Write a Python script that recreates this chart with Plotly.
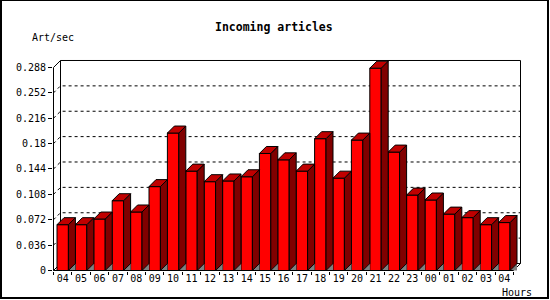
import plotly.graph_objects as go

# ---- data ----
hours = ['04', '05', '06', '07', '08', '09', '10', '11', '12', '13', '14', '15', '16',
         '17', '18', '19', '20', '21', '22', '23', '00', '01', '02', '03', '04']
rates = [0.065, 0.065, 0.073, 0.099, 0.083, 0.119, 0.195, 0.141, 0.126, 0.127, 0.133,
         0.166, 0.157, 0.141, 0.187, 0.131, 0.185, 0.287, 0.168, 0.107, 0.100, 0.080,
         0.075, 0.065, 0.068]
ytick_vals = [0, 0.036, 0.072, 0.108, 0.144, 0.18, 0.216, 0.252, 0.288]
ytick_text = ['0', '0.036', '0.072', '0.108', '0.144', '0.18', '0.216', '0.252', '0.288']

# ---- geometry (pixels) ----
FIG_W, FIG_H = 550, 300
P = 18.4          # px per category
K = 704.9         # px per unit of y
L, T, W, H = 53, 57, 473, 214
DEPTH = 7         # 3D depth in px
x0 = -0.5 - 0.5 / P
x1 = x0 + W / P
y0 = -0.5 / K
y1 = y0 + H / K
dx = DEPTH / P
dy = DEPTH / K
n = len(rates)
xl_edge, xr_edge = -0.5, n - 0.5
ytop = ytick_vals[-1]
BW = 0.62         # front bar width (category units)

FONT = "DejaVu Sans Mono"


def px(xp):
    return (xp - L) / W


def py(yp):
    return 1 - (yp - T) / H


fig = go.Figure()

# front faces
fig.add_trace(go.Bar(x=list(range(n)), y=rates, width=BW,
                     marker=dict(color='#ff0000', line=dict(color='black', width=1)),
                     hoverinfo='skip', showlegend=False))

# floor shadows, side faces, top faces
gx, gy, sx, sy, tx, ty = [], [], [], [], [], []
for i, v in enumerate(rates):
    xl = i - BW / 2
    xr = i + BW / 2
    gx += [xr, xr + dx, xr + dx, xr, None]
    gy += [0, dy, 0, 0, None]
    sx += [xr, xr, xr + dx, xr + dx, xr, None]
    sy += [0, v, v + dy, dy, 0, None]
    tx += [xl, xl + dx, xr + dx, xr, xl, None]
    ty += [v, v + dy, v + dy, v, v, None]

fig.add_trace(go.Scatter(x=gx, y=gy, mode='lines', fill='toself', fillcolor='#808080',
                         line=dict(width=0, color='#808080'), hoverinfo='skip', showlegend=False))
fig.add_trace(go.Scatter(x=sx, y=sy, mode='lines', fill='toself', fillcolor='#800000',
                         line=dict(width=1, color='black'), hoverinfo='skip', showlegend=False))
fig.add_trace(go.Scatter(x=tx, y=ty, mode='lines', fill='toself', fillcolor='#c00000',
                         line=dict(width=1, color='black'), hoverinfo='skip', showlegend=False))

# invisible trace for the label axis
fig.add_trace(go.Scatter(x=[0], y=[0], xaxis='x2', mode='markers', marker=dict(opacity=0),
                         hoverinfo='skip', showlegend=False))

shapes = []
# dashed back-plane grid lines
for v in ytick_vals[1:-1]:
    shapes.append(dict(type='path', xref='x', yref='y', layer='below',
                       path=f"M {xl_edge},{v} L {xl_edge + dx},{v + dy} L {xr_edge + dx},{v + dy}",
                       line=dict(color='black', width=1, dash='3px,3px')))
# back plane frame
frame = [
    (xl_edge + dx, dy, xl_edge + dx, ytop + dy),
    (xl_edge + dx, ytop + dy, xr_edge + dx, ytop + dy),
    (xr_edge + dx, ytop + dy, xr_edge + dx, dy),
    (xl_edge, ytop, xl_edge + dx, ytop + dy),
    (xl_edge, 0, xl_edge + dx, dy),
    (xr_edge, 0, xr_edge + dx, dy),
    (xl_edge + dx, dy, xr_edge + dx, dy),
]
for a, b, c, d in frame:
    shapes.append(dict(type='line', xref='x', yref='y', layer='below',
                       x0=a, y0=b, x1=c, y1=d, line=dict(color='black', width=1)))
# front axes
shapes.append(dict(type='line', xref='x', yref='y', layer='above',
                   x0=xl_edge, y0=0, x1=xl_edge, y1=ytop, line=dict(color='black', width=1)))
shapes.append(dict(type='line', xref='x', yref='y', layer='above',
                   x0=xl_edge, y0=0, x1=xr_edge, y1=0, line=dict(color='black', width=1)))
# outer border
shapes.append(dict(type='rect', xref='paper', yref='paper',
                   x0=px(1), x1=px(548), y0=py(0), y1=py(298),
                   line=dict(color='black', width=2), fillcolor='rgba(0,0,0,0)'))

annotations = [
    dict(text='<b>Incoming articles</b>', xref='paper', yref='paper', x=px(274), y=py(27),
         showarrow=False, xanchor='center', yanchor='middle',
         font=dict(family=FONT, size=11.5, color='black')),
    dict(text='Art/sec', xref='paper', yref='paper', x=px(30), y=py(37),
         showarrow=False, xanchor='left', yanchor='middle',
         font=dict(family=FONT, size=10, color='black')),
    dict(text='Hours', xref='paper', yref='paper', x=px(534), y=py(292),
         showarrow=False, xanchor='right', yanchor='middle',
         font=dict(family=FONT, size=10, color='black')),
]

fig.update_layout(
    width=FIG_W, height=FIG_H,
    margin=dict(l=L, r=FIG_W - L - W, t=T, b=FIG_H - T - H, pad=0),
    paper_bgcolor='white', plot_bgcolor='white',
    showlegend=False,
    xaxis=dict(range=[x0, x1], tickvals=[i - 0.5 for i in range(n + 1)],
               ticks='outside', ticklen=3, tickcolor='black', tickwidth=1,
               showticklabels=False, showgrid=False, zeroline=False, showline=False,
               fixedrange=True),
    xaxis2=dict(range=[x0, x1], overlaying='x', anchor='y', side='bottom',
                tickvals=list(range(n)), ticktext=hours, ticks='',
                showgrid=False, zeroline=False, showline=False, fixedrange=True,
                tickfont=dict(family=FONT, size=10, color='black')),
    yaxis=dict(range=[y0, y1], tickvals=ytick_vals, ticktext=ytick_text,
               ticks='outside', ticklen=4, tickcolor='black', tickwidth=1,
               showgrid=False, zeroline=False, showline=False, fixedrange=True,
               tickfont=dict(family=FONT, size=10, color='black')),
    shapes=shapes, annotations=annotations,
)

fig.write_html("out.html")
